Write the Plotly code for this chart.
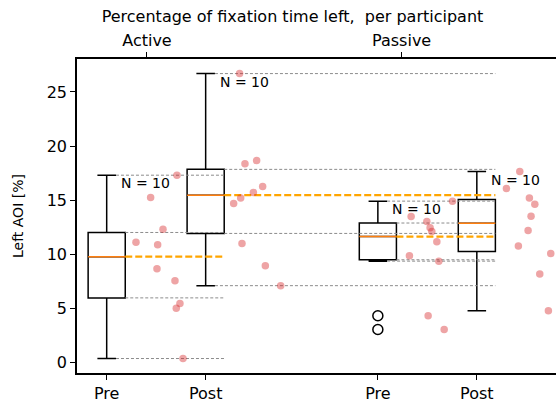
import numpy as np
import plotly.graph_objects as go

# Percentage of fixation time spent on the left AOI, one value per participant
active_pre = [11.1, 12.3, 10.87, 8.65, 7.54, 5.42, 4.98, 0.34, 15.24, 17.3]
active_post = [26.7, 18.37, 18.65, 16.25, 15.7, 15.2, 14.68, 10.99, 8.93, 7.08]
passive_pre = [13.48, 13.02, 12.44, 12.1, 11.14, 9.85, 9.35, 4.3, 3.02, 14.9]
passive_post = [17.64, 16.07, 15.2, 14.62, 13.51, 12.19, 10.74, 10.06, 8.15, 4.77]

# Horizontal spread of the participant dots to the right of each box
jitter_active_pre = [0.296, 0.569, 0.515, 0.508, 0.690, 0.740, 0.703, 0.771, 0.444, 0.710]
jitter_active_post = [0.343, 0.397, 0.515, 0.576, 0.482, 0.354, 0.283, 0.367, 0.603, 0.758]
jitter_passive_pre = [0.336, 0.495, 0.528, 0.545, 0.596, 0.319, 0.616, 0.508, 0.670, 0.754]
jitter_passive_post = [0.434, 0.299, 0.531, 0.586, 0.548, 0.518, 0.420, 0.747, 0.636, 0.723]

positions = [1.0, 2.0, 3.74, 4.74]
session_labels = ["Pre", "Post", "Pre", "Post"]
condition_positions = [1.407, 3.98]
condition_labels = ["Active", "Passive"]
y_ticks = [0, 5, 10, 15, 20, 25]

groups = [active_pre, active_post, passive_pre, passive_post]
jitters = [jitter_active_pre, jitter_active_post, jitter_passive_pre, jitter_passive_post]
# each box's reference lines reach across to the right edge of another box
line_targets = [1, 3, 3, None]

BOX_W = 0.375


def box_stats(vals):
    v = np.asarray(vals, dtype=float)
    q1, med, q3 = np.percentile(v, [25, 50, 75])
    iqr = q3 - q1
    lo = v[v >= q1 - 1.5 * iqr].min()
    hi = v[v <= q3 + 1.5 * iqr].max()
    fliers = v[(v < lo) | (v > hi)]
    return lo, q1, med, q3, hi, fliers


fig = go.Figure()

# dashed comparison lines
for i, vals in enumerate(groups):
    tgt = line_targets[i]
    if tgt is None:
        continue
    lo, q1, med, q3, hi, _ = box_stats(vals)
    x_end = positions[tgt] + BOX_W / 2
    for yv, start in [(lo, positions[i] + BOX_W / 4), (q1, positions[i] + BOX_W / 2),
                      (q3, positions[i] + BOX_W / 2), (hi, positions[i] + BOX_W / 4)]:
        fig.add_trace(go.Scatter(x=[start, x_end], y=[yv, yv], mode="lines",
                                 line=dict(color="#8c8c8c", width=1, dash="3px,2px"),
                                 showlegend=False, hoverinfo="skip"))
    fig.add_trace(go.Scatter(x=[positions[i] + BOX_W / 2, x_end], y=[med, med], mode="lines",
                             line=dict(color="#ffa500", width=2.2, dash="7px,3px"),
                             showlegend=False, hoverinfo="skip"))

# participant dots
for i, vals in enumerate(groups):
    fig.add_trace(go.Scatter(x=[positions[i] + j for j in jitters[i]], y=vals, mode="markers",
                             marker=dict(color="rgba(214,39,40,0.42)", size=7.5, line=dict(width=0)),
                             showlegend=False, hoverinfo="skip"))

# boxes, medians, outliers and sample sizes
for i, vals in enumerate(groups):
    lo, q1, med, q3, hi, fliers = box_stats(vals)
    fig.add_trace(go.Box(x=[positions[i]], q1=[q1], median=[med], q3=[q3],
                         lowerfence=[lo], upperfence=[hi], width=BOX_W, whiskerwidth=0.5,
                         boxpoints=False, fillcolor="rgba(0,0,0,0)",
                         line=dict(color="black", width=1.5),
                         showlegend=False, hoverinfo="skip"))
    fig.add_trace(go.Scatter(x=[positions[i] - BOX_W / 2, positions[i] + BOX_W / 2], y=[med, med],
                             mode="lines", line=dict(color="#ff7f0e", width=1.5),
                             showlegend=False, hoverinfo="skip"))
    if len(fliers):
        fig.add_trace(go.Scatter(x=[positions[i]] * len(fliers), y=fliers, mode="markers",
                                 marker=dict(symbol="circle-open", color="black", size=10,
                                             line=dict(width=1.5, color="black")),
                                 showlegend=False, hoverinfo="skip"))
    fig.add_annotation(x=positions[i] + 0.125, y=hi, text=f"N = {len(vals)}",
                       showarrow=False, xanchor="left", yanchor="top", yshift=2,
                       font=dict(size=14, color="black"))

# second axis carrying the condition names along the top
fig.add_trace(go.Scatter(x=[None], y=[None], xaxis="x2", yaxis="y", showlegend=False))

axis_font = dict(family="DejaVu Sans", size=16, color="black")
fig.update_layout(
    width=556, height=402,
    margin=dict(l=77, r=0, t=58.5, b=29),
    plot_bgcolor="white", paper_bgcolor="white",
    font=dict(family="DejaVu Sans", color="black"),
    boxmode="overlay",
    title=dict(text="Percentage of fixation time left,\u00a0 per participant",
               x=292.5 / 556, xanchor="center", xref="container",
               y=1 - 16 / 402, yanchor="middle", font=axis_font),
    xaxis=dict(range=[0.7, 5.54], tickvals=positions, ticktext=session_labels,
               showgrid=False, zeroline=False, showline=True, linecolor="black", linewidth=1.5,
               ticks="outside", ticklen=5, tickwidth=1.3, tickcolor="black", tickfont=axis_font),
    xaxis2=dict(range=[0.7, 5.54], overlaying="x", side="top", tickvals=condition_positions,
                ticktext=condition_labels, showgrid=False, zeroline=False, showline=True,
                linecolor="black", linewidth=1.5, ticks="outside", ticklen=5, tickwidth=1.3,
                tickcolor="black", tickfont=axis_font),
    yaxis=dict(range=[-1.0, 28.05], tickvals=y_ticks, showgrid=False, zeroline=False,
               showline=True, linecolor="black", linewidth=1.5, ticks="outside", ticklen=5,
               tickwidth=1.3, tickcolor="black", tickfont=axis_font),
)

fig.add_annotation(x=0, y=0.5, xref="paper", yref="paper", text="Left AOI [%]", textangle=-90,
                   showarrow=False, xanchor="center", yanchor="middle", xshift=-59,
                   font=dict(family="DejaVu Sans", size=14, color="black"))

fig.write_html("out.html")
